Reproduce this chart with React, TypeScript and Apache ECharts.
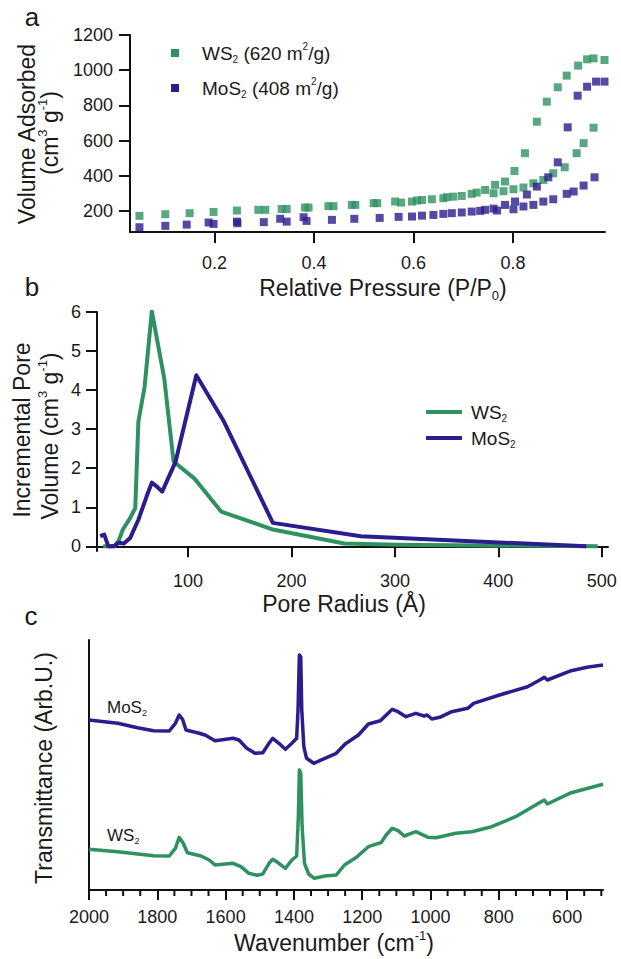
import React, { useEffect, useRef } from 'react';
import * as echarts from 'echarts';

const GREEN = '#2f9160';
const BLUE = '#2a1d8c';
const TXT = '#1a1a1a';
const AX = '#111111';
const FONT = "'Liberation Sans', Arial, Helvetica, sans-serif";

// ---- Panel a: N2 isotherms (relative pressure, volume adsorbed cm3/g)
const ws2IsoP = [0.049, 0.101, 0.150, 0.198, 0.245, 0.288, 0.302, 0.335, 0.345, 0.382, 0.389, 0.429, 0.439, 0.476, 0.483, 0.520, 0.527, 0.563, 0.575, 0.597, 0.607, 0.617, 0.637, 0.660, 0.667, 0.680, 0.697, 0.717, 0.727, 0.744, 0.761, 0.764, 0.781, 0.784, 0.801, 0.803, 0.821, 0.824, 0.841, 0.848, 0.861, 0.868, 0.881, 0.890, 0.904, 0.908, 0.928, 0.931, 0.942, 0.949, 0.962, 0.962, 0.984];
const ws2IsoV = [172, 181, 187, 194, 202, 206, 206, 211, 211, 219, 219, 227, 227, 234, 234, 244, 244, 253, 247, 253, 259, 262, 266, 272, 278, 281, 285, 297, 304, 319, 300, 348, 312, 367, 323, 427, 333, 528, 357, 707, 376, 821, 414, 903, 448, 969, 528, 1026, 585, 1062, 673, 1067, 1058];
const mos2IsoP = [0.049, 0.101, 0.144, 0.188, 0.198, 0.245, 0.246, 0.299, 0.332, 0.345, 0.379, 0.385, 0.436, 0.481, 0.532, 0.570, 0.597, 0.617, 0.640, 0.660, 0.677, 0.697, 0.717, 0.734, 0.744, 0.761, 0.768, 0.784, 0.801, 0.804, 0.821, 0.828, 0.841, 0.848, 0.861, 0.871, 0.881, 0.890, 0.908, 0.910, 0.922, 0.930, 0.942, 0.949, 0.964, 0.967, 0.984];
const mos2IsoV = [107, 115, 122, 134, 126, 139, 130, 136, 155, 139, 164, 143, 149, 155, 160, 166, 168, 173, 177, 183, 187, 191, 196, 200, 206, 213, 202, 234, 209, 253, 225, 293, 234, 338, 253, 391, 266, 476, 297, 675, 310, 855, 344, 906, 391, 935, 935];
const aYTicks = [200, 400, 600, 800, 1000, 1200];
const aXTicks = [0.2, 0.4, 0.6, 0.8];

// ---- Panel b: pore size distribution (radius Å, incremental pore volume)
const ws2PoreR = [18, 29, 33, 37, 44, 49, 52, 58, 65, 77, 86, 106, 132, 182, 251, 301, 496];
const ws2PoreV = [0, 0, 0.15, 0.43, 0.72, 0.98, 3.19, 4.08, 6.02, 4.3, 2.17, 1.74, 0.89, 0.43, 0.07, 0.04, 0];
const mos2PoreR = [15, 19, 23, 28, 33, 38, 44, 52, 60, 65, 69, 75, 88, 108, 134, 182, 267, 485];
const mos2PoreV = [0.26, 0.3, 0, 0, 0.09, 0.07, 0.21, 0.68, 1.28, 1.63, 1.55, 1.4, 2.17, 4.38, 3.23, 0.6, 0.26, 0];
const bYTicks = [0, 1, 2, 3, 4, 5, 6];
const bXTicks = [100, 200, 300, 400, 500];

// ---- Panel c: FTIR (wavenumber cm-1, transmittance arb. units)
const mos2IrW = [2000, 1916, 1858, 1811, 1765, 1747, 1736, 1726, 1716, 1683, 1660, 1631, 1578, 1561, 1538, 1514, 1491, 1473, 1462, 1444, 1425, 1406, 1392, 1388, 1384, 1380, 1377, 1371, 1363, 1342, 1316, 1276, 1250, 1211, 1182, 1147, 1112, 1095, 1072, 1043, 1019, 1010, 996, 973, 938, 891, 874, 798, 716, 676, 667, 658, 588, 542, 495];
const mos2IrT = [170, 166.7, 162.3, 159.3, 159, 166.7, 175, 170.7, 160, 157.3, 155, 149.3, 151.7, 150, 141.7, 136.7, 137.3, 146.7, 151.7, 146.7, 140.7, 146.7, 151.7, 180, 235, 233, 180, 143.3, 131.7, 126.7, 130.7, 136.7, 146, 155, 166, 169.3, 180.7, 178.3, 173.3, 176.7, 174, 175, 171, 172.7, 178.3, 181.7, 186.7, 195, 203.3, 210.7, 212.7, 210, 219.3, 222.7, 225];
const ws2IrW = [2000, 1916, 1811, 1765, 1747, 1736, 1724, 1712, 1672, 1648, 1631, 1578, 1555, 1532, 1508, 1491, 1473, 1462, 1444, 1425, 1406, 1392, 1387, 1384, 1380, 1376, 1369, 1357, 1340, 1310, 1276, 1252, 1217, 1182, 1145, 1130, 1112, 1095, 1077, 1043, 1007, 984, 926, 879, 821, 751, 676, 667, 658, 588, 495];
const ws2IrT = [40.7, 38.3, 34.3, 34, 41.7, 52.7, 46.7, 37.3, 34, 30, 25, 26.7, 23.3, 16.7, 14.7, 16, 26.7, 30.7, 26.7, 21.7, 30, 34, 73.3, 120, 116.7, 63.3, 26.7, 16, 11.7, 14, 15, 25, 32.7, 43.3, 47.3, 55, 61.7, 59.3, 54, 58.3, 52.7, 52.3, 56.7, 58.3, 63.3, 73.3, 88.3, 90, 86, 97.3, 105.7];
const cXTicks = [2000, 1800, 1600, 1400, 1200, 1000, 800, 600];
const cXMinorTicks = [1950, 1900, 1850, 1750, 1700, 1650, 1550, 1500, 1450, 1350, 1300, 1250, 1150, 1100, 1050, 950, 900, 850, 750, 700, 650, 550, 500];

const zip = (xs: number[], ys: number[]) => xs.map((x, i) => [x, ys[i]]);

const rich = (size: number) => ({
  n: { fontSize: size, fontFamily: FONT, fill: TXT, color: TXT, lineHeight: Math.round(size * 1.2) },
  sup: { fontSize: Math.round(size * 0.55), fontFamily: FONT, fill: TXT, color: TXT, verticalAlign: 'top', lineHeight: Math.round(size * 0.6) },
  sub: { fontSize: Math.round(size * 0.55), fontFamily: FONT, fill: TXT, color: TXT, verticalAlign: 'bottom', lineHeight: Math.round(size * 0.6) },
});

const txt = (x: number, y: number, text: string, size: number, align = 'center', rotate = 0) => ({
  type: 'text',
  x,
  y,
  rotation: rotate,
  style: {
    text,
    rich: rich(size),
    fontSize: size,
    fontFamily: FONT,
    fill: TXT,
    align,
    textAlign: align,
    verticalAlign: 'middle',
    textVerticalAlign: 'middle',
  },
});

const plain = (v: number) => String(v);
const lineAxis = { show: true, lineStyle: { color: AX, width: 2 } };
const labelStyle = { fontSize: 18, fontFamily: FONT, color: TXT };

const tickRenderer = (len: number) => (params: any, api: any) => {
  const p = api.coord([api.value(0), api.value(1)]);
  return {
    type: 'line',
    shape: { x1: p[0], y1: p[1], x2: p[0], y2: p[1] + len },
    style: { stroke: AX, lineWidth: 2 },
  };
};

const option: any = {
  animation: false,
  backgroundColor: '#ffffff',
  grid: [
    { left: 130, top: 35, width: 475, height: 197 },
    { left: 97, top: 312, width: 511, height: 239 },
    { left: 89, top: 640, width: 514, height: 250 },
  ],
  xAxis: [
    {
      gridIndex: 0, type: 'value', position: 'bottom', min: 0.03, max: 0.985,
      axisLine: lineAxis,
      axisTick: { show: true, length: 11, lineStyle: { color: AX, width: 2 }, customValues: aXTicks },
      axisLabel: { ...labelStyle, margin: 22, customValues: aXTicks, formatter: (v: number) => v.toFixed(1) },
      splitLine: { show: false },
    },
    {
      gridIndex: 1, type: 'value', position: 'bottom', min: 12, max: 506,
      axisLine: lineAxis,
      axisTick: { show: true, length: 11, lineStyle: { color: AX, width: 2 }, customValues: bXTicks },
      axisLabel: { ...labelStyle, margin: 21, customValues: bXTicks, formatter: plain },
      splitLine: { show: false },
    },
    {
      gridIndex: 2, type: 'value', position: 'bottom', min: 495, max: 2000, inverse: true,
      axisLine: lineAxis,
      axisTick: { show: true, length: 10, lineStyle: { color: AX, width: 2 }, customValues: cXTicks },
      axisLabel: { ...labelStyle, margin: 18, customValues: cXTicks, formatter: plain },
      splitLine: { show: false },
    },
  ],
  yAxis: [
    {
      gridIndex: 0, type: 'value', min: 80, max: 1200,
      axisLine: lineAxis,
      axisTick: { show: true, length: 11, lineStyle: { color: AX, width: 2 }, customValues: aYTicks },
      axisLabel: { ...labelStyle, margin: 17, customValues: aYTicks, formatter: plain },
      splitLine: { show: false },
    },
    {
      gridIndex: 1, type: 'value', min: -0.12, max: 6,
      axisLine: lineAxis,
      axisTick: { show: true, length: 11, lineStyle: { color: AX, width: 2 }, customValues: bYTicks },
      axisLabel: { ...labelStyle, margin: 16, customValues: bYTicks, formatter: plain },
      splitLine: { show: false },
    },
    {
      gridIndex: 2, type: 'value', min: 0, max: 250,
      axisLine: lineAxis,
      axisTick: { show: false },
      axisLabel: { show: false },
      splitLine: { show: false },
    },
  ],
  series: [
    {
      name: 'WS2 isotherm', type: 'scatter', xAxisIndex: 0, yAxisIndex: 0,
      symbol: 'rect', symbolSize: 8, itemStyle: { color: GREEN }, clip: false,
      data: zip(ws2IsoP, ws2IsoV),
    },
    {
      name: 'MoS2 isotherm', type: 'scatter', xAxisIndex: 0, yAxisIndex: 0,
      symbol: 'rect', symbolSize: 8, itemStyle: { color: BLUE }, clip: false,
      data: zip(mos2IsoP, mos2IsoV),
    },
    {
      name: 'WS2 pores', type: 'line', xAxisIndex: 1, yAxisIndex: 1, showSymbol: false,
      lineStyle: { color: GREEN, width: 4, join: 'round' }, itemStyle: { color: GREEN },
      data: zip(ws2PoreR, ws2PoreV),
    },
    {
      name: 'MoS2 pores', type: 'line', xAxisIndex: 1, yAxisIndex: 1, showSymbol: false,
      lineStyle: { color: BLUE, width: 4, join: 'round' }, itemStyle: { color: BLUE },
      data: zip(mos2PoreR, mos2PoreV),
    },
    {
      name: 'MoS2 IR', type: 'line', xAxisIndex: 2, yAxisIndex: 2, showSymbol: false,
      lineStyle: { color: BLUE, width: 3.5, join: 'round' }, itemStyle: { color: BLUE },
      data: zip(mos2IrW, mos2IrT),
    },
    {
      name: 'WS2 IR', type: 'line', xAxisIndex: 2, yAxisIndex: 2, showSymbol: false,
      lineStyle: { color: GREEN, width: 3.5, join: 'round' }, itemStyle: { color: GREEN },
      data: zip(ws2IrW, ws2IrT),
    },
    {
      // minor ticks of the wavenumber axis (every 50 cm-1), hanging below the axis line
      name: 'minor ticks', type: 'custom', xAxisIndex: 2, yAxisIndex: 2, silent: true, clip: false,
      encode: { x: 0, y: 1 },
      renderItem: tickRenderer(6),
      data: cXMinorTicks.map((w) => [w, 0]),
      z: 10,
    },
  ],
  graphic: [
    // panel letters
    txt(32, 17, '{n|a}', 26),
    txt(32, 287, '{n|b}', 26),
    txt(31, 616, '{n|c}', 26),
    // panel a
    txt(27, 134, '{n|Volume Adsorbed}', 23, 'center', Math.PI / 2),
    txt(50, 133, '{n|(cm}{sup|3}{n| g}{sup|-1}{n|)}', 23, 'center', Math.PI / 2),
    txt(383, 288, '{n|Relative Pressure (P/P}{sub|0}{n|)}', 23),
    { type: 'rect', shape: { x: 171, y: 49, width: 8, height: 8 }, style: { fill: GREEN } },
    { type: 'rect', shape: { x: 171, y: 84, width: 8, height: 8 }, style: { fill: BLUE } },
    txt(202, 53, '{n|WS}{sub|2}{n| (620 m}{sup|2}{n|/g)}', 19, 'left'),
    txt(202, 88, '{n|MoS}{sub|2}{n| (408 m}{sup|2}{n|/g)}', 19, 'left'),
    // panel b
    txt(22, 430, '{n|Incremental Pore}', 23, 'center', Math.PI / 2),
    txt(50, 436, '{n|Volume (cm}{sup|3}{n| g}{sup|-1}{n|)}', 23, 'center', Math.PI / 2),
    txt(344, 604, '{n|Pore Radius (Å)}', 23),
    { type: 'line', shape: { x1: 426, y1: 412, x2: 462, y2: 412 }, style: { stroke: GREEN, lineWidth: 4 } },
    { type: 'line', shape: { x1: 426, y1: 438, x2: 462, y2: 438 }, style: { stroke: BLUE, lineWidth: 4 } },
    txt(471, 412, '{n|WS}{sub|2}', 19, 'left'),
    txt(471, 438, '{n|MoS}{sub|2}', 19, 'left'),
    // panel c
    txt(44, 768, '{n|Transmittance (Arb.U.)}', 23, 'center', Math.PI / 2),
    txt(334, 943, '{n|Wavenumber (cm}{sup|-1}{n|)}', 23),
    txt(107, 707, '{n|MoS}{sub|2}', 17, 'left'),
    txt(107, 835, '{n|WS}{sub|2}', 17, 'left'),
  ],
};

export default function App() {
  const ref = useRef<HTMLDivElement>(null);
  useEffect(() => {
    if (!ref.current) return;
    const chart = echarts.init(ref.current, null, { renderer: 'svg' });
    chart.setOption(option);
    return () => chart.dispose();
  }, []);
  return (
    <div
      ref={ref}
      style={{ position: 'absolute', left: 0, top: 0, width: 621, height: 959, background: '#ffffff' }}
    />
  );
}
